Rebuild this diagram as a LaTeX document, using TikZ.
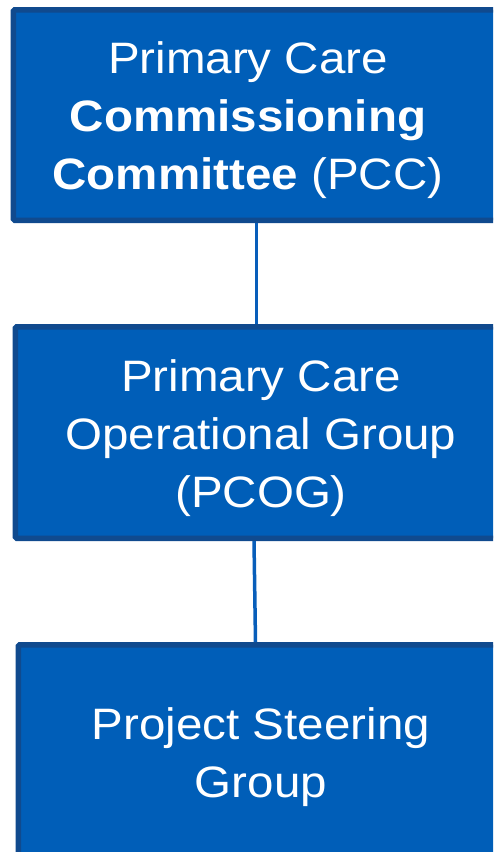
\documentclass[tikz,border=0pt]{standalone}
\usepackage{fontspec}
\setmainfont[FakeStretch=1.08]{Liberation Sans}
\usetikzlibrary{fit}
\definecolor{boxfill}{RGB}{0,94,184}
\definecolor{boxline}{RGB}{16,74,142}
\definecolor{linkcol}{RGB}{8,94,186}
\newcommand\boxlines[1]{\vbox{\baselineskip=58pt\lineskiplimit=-100pt\halign{\hfil##\hfil\cr#1\crcr}}}
\begin{document}
\begin{tikzpicture}[x=1pt,y=-1pt,
  box/.style={draw=boxline, fill=boxfill, line width=5.5pt, rounded corners=1.5pt, inner sep=0pt},
  boxtext/.style={text=white, inner sep=0pt, anchor=base, font=\fontsize{44}{58}\selectfont},
  link/.style={draw=linkcol, line width=3.5pt}]
\useasboundingbox (0,0) rectangle (493,852);
\clip (0,0) rectangle (493,852);
\coordinate (c1) at (256.5,0);
\coordinate (c2a) at (254,0);
\coordinate (c2b) at (255.5,0);
\node[box, fit={(13.25,9.75) (520,220.25)}] (b1) {};
\node[box, fit={(15.25,326.75) (520,538.25)}] (b2) {};
\node[box, fit={(18.25,644.75) (520,900)}] (b3) {};
\draw[link] (c1 |- b1.south) -- (c1 |- b2.north);
\draw[link] (c2a |- b2.south) -- (c2b |- b3.north);
\node[boxtext] (t1) at (248,189) {\boxlines{Primary Care\cr\textbf{Commissioning}\cr\textbf{Committee} (PCC)}};
\node[boxtext] (t2) at (261,507) {\boxlines{Primary Care\cr Operational Group\cr (PCOG)}};
\node[boxtext] (t3) at (261,797) {\boxlines{Project Steering\cr Group}};
\end{tikzpicture}
\end{document}
